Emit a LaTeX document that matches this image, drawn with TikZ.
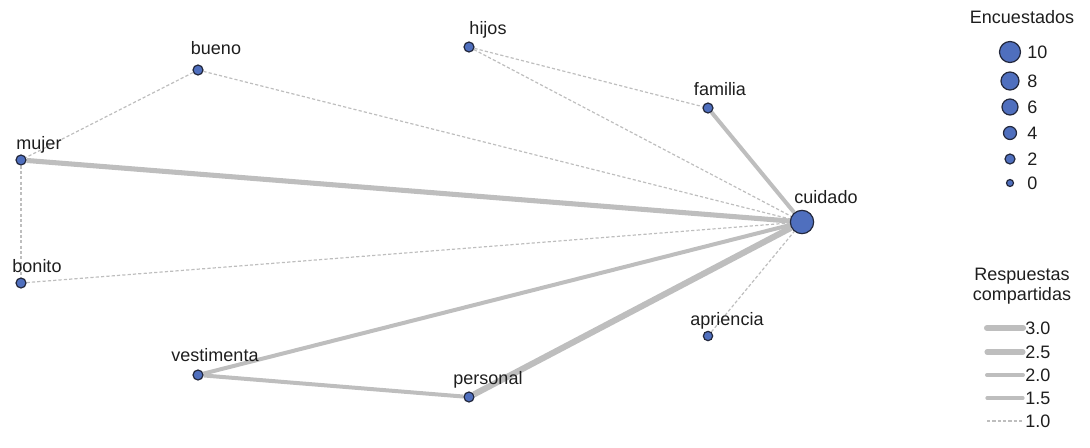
\documentclass[tikz,border=0pt]{standalone}
\usepackage{fontspec}
\setmainfont{Liberation Sans}
\usetikzlibrary{backgrounds}
\definecolor{dotblue}{RGB}{79,111,190}
\definecolor{dotline}{RGB}{35,40,60}
\definecolor{edgegray}{RGB}{190,190,190}
\definecolor{txt}{RGB}{30,30,30}
\tikzset{
  dot/.style={circle,draw=dotline,fill=dotblue,line width=0.9pt,inner sep=0pt,minimum size=7.5pt},
  word/.style={text=txt,font=\fontsize{13.5}{15}\selectfont,anchor=base,inner sep=0pt},
  w10/.style={draw=edgegray,line width=0.9pt,dash pattern=on 2.4pt off 1.6pt},
  w15/.style={draw=edgegray,line width=2.4pt},
  w20/.style={draw=edgegray,line width=3pt},
  w25/.style={draw=edgegray,line width=3.8pt},
  w30/.style={draw=edgegray,line width=4.6pt}
}
\begin{document}
\begin{tikzpicture}[x=0.75pt,y=-0.75pt]
\useasboundingbox (0,0) rectangle (1090,447);

\node[dot] (bueno) at (198,70) {};
\node[dot] (hijos) at (469,47) {};
\node[dot] (familia) at (708,108) {};
\node[dot] (mujer) at (21,160) {};
\node[dot,minimum size=17.5pt] (cuidado) at (802,222) {};
\node[dot] (bonito) at (21,283) {};
\node[dot,minimum size=7pt] (apriencia) at (708,336) {};
\node[dot] (vestimenta) at (198,375) {};
\node[dot] (personal) at (469,397) {};

\begin{scope}[on background layer]
\draw[w10] (bueno) -- (mujer);
\draw[w10] (bueno) -- (cuidado);
\draw[w10] (hijos) -- (familia);
\draw[w10] (hijos) -- (cuidado);
\draw[w10] (mujer) -- (bonito);
\draw[w10] (bonito) -- (cuidado);
\draw[w10] (apriencia) -- (cuidado);
\draw[w20] (familia) -- (cuidado);
\draw[w25] (mujer) -- (cuidado);
\draw[w20] (vestimenta) -- (cuidado);
\draw[w20] (vestimenta) -- (personal);
\draw[w30] (personal) -- (cuidado);
\end{scope}

\node[word] (t-bueno) at (216,54) {bueno};
\node[word] (t-hijos) at (488,34) {hijos};
\node[word] (t-familia) at (720,95) {familia};
\node[word] (t-mujer) at (39,149) {mujer};
\node[word] (t-cuidado) at (826,203) {cuidado};
\node[word] (t-bonito) at (37,272) {bonito};
\node[word] (t-apriencia) at (727,325) {apriencia};
\node[word] (t-vestimenta) at (215,361) {vestimenta};
\node[word] (t-personal) at (488,384) {personal};

\node[word] (encuestados) at (1022,23) {Encuestados};
\node[dot,minimum size=15.75pt] (e10) at (1010,52) {};
\node[dot,minimum size=13.5pt] (e8) at (1010,81) {};
\node[dot,minimum size=12pt] (e6) at (1010,107) {};
\node[dot,minimum size=9.75pt] (e4) at (1010,133) {};
\node[dot,minimum size=7.5pt] (e2) at (1010,159) {};
\node[dot,minimum size=5.25pt] (e0) at (1010,183) {};
\foreach \n/\v in {e10/10,e8/8,e6/6,e4/4,e2/2,e0/0}
  \node[word,anchor=west] at (1027,0 |- \n) {\v};

\node[word] (respuestas) at (1022,280) {Respuestas};
\node[word] (compartidas) at (1022,300) {compartidas};
\coordinate (r30a) at (987,328); \coordinate (r30b) at (1023,328);
\coordinate (r25a) at (987,352); \coordinate (r25b) at (1023,352);
\coordinate (r20a) at (987,375); \coordinate (r20b) at (1023,375);
\coordinate (r15a) at (987,398); \coordinate (r15b) at (1023,398);
\coordinate (r10a) at (987,421); \coordinate (r10b) at (1023,421);
\draw[w30,line cap=round] (r30a) -- (r30b);
\draw[w25,line cap=round] (r25a) -- (r25b);
\draw[w20,line cap=round] (r20a) -- (r20b);
\draw[w15,line cap=round] (r15a) -- (r15b);
\draw[w10] (r10a) -- (r10b);
\node[word,anchor=west] at (1025,0 |- r30b) {3.0};
\node[word,anchor=west] at (1025,0 |- r25b) {2.5};
\node[word,anchor=west] at (1025,0 |- r20b) {2.0};
\node[word,anchor=west] at (1025,0 |- r15b) {1.5};
\node[word,anchor=west] at (1025,0 |- r10b) {1.0};
\end{tikzpicture}
\end{document}
